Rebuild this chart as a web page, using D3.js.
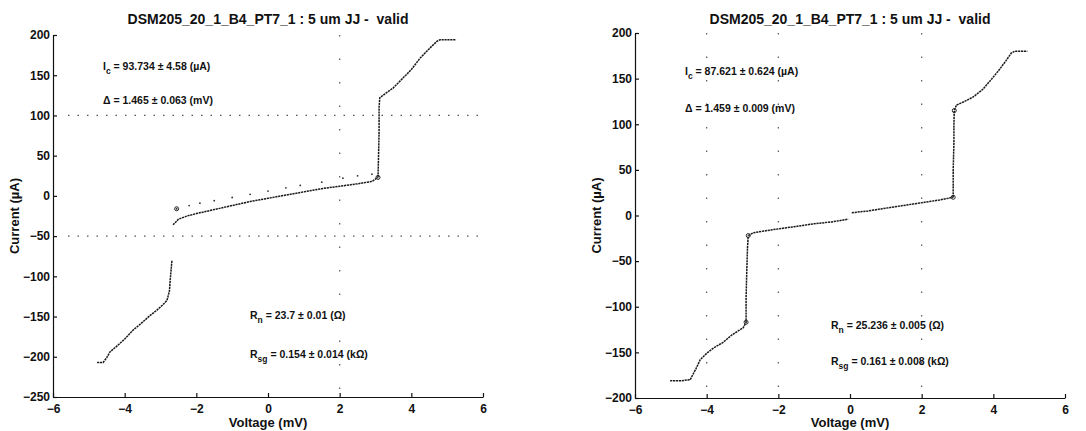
<!DOCTYPE html>
<html>
<head>
<meta charset="utf-8">
<script src="https://cdn.jsdelivr.net/npm/d3@7"></script>
<style>
  body { margin: 0; background: #fff; }
  svg { font-family: "Liberation Sans", Arial, sans-serif; font-weight: bold; }
  .domain, .tick line { stroke: #111; stroke-width: 1.2; }
</style>
</head>
<body>
<svg width="1086" height="431"></svg>
<script>
const svg = d3.select("svg");

// tick labels
const xTicks = [-6, -4, -2, 0, 2, 4, 6];
const leftYTicks = [200, 150, 100, 50, 0, -50, -100, -150, -200, -250];
const rightYTicks = [200, 150, 100, 50, 0, -50, -100, -150, -200];

// left junction: [voltage mV, current uA]
const leftNeg = [[-4.77,-207],[-4.6,-207],[-4.5,-201],[-4.41,-194],[-4.2,-186],[-4.0,-178],[-3.77,-167],[-3.5,-157],[-3.3,-149],[-3.1,-142],[-2.95,-136],[-2.82,-130],[-2.75,-118],[-2.73,-105],[-2.68,-80]];
const leftMain = [[-2.65,-36],[-2.5,-29],[-2.26,-25],[-2.0,-22],[-1.5,-17],[-1.0,-12],[-0.5,-7],[0,-3],[0.5,1],[1.0,5],[1.5,9],[2.0,12],[2.5,15],[2.9,18],[3.07,23]];
const leftUpper = [[-2.55,-16],[-2.2,-12],[-1.9,-9],[-1.5,-6],[-1.0,-2],[-0.5,2],[0,6],[0.5,10],[0.9,13],[1.5,17],[2.09,22],[2.5,25],[2.9,27]];
const leftPos = [[3.07,23],[3.08,40],[3.1,80],[3.1,110],[3.12,122],[3.3,128],[3.49,134],[3.8,148],[4.0,157],[4.24,171],[4.5,183],[4.71,192],[4.8,194],[5.25,194]];
const leftCircles = [[-2.55,-16],[3.07,23]];
const leftGridX = [2];
const leftGridY = [100, -50];

// right junction
const rightNeg = [[-5.02,-181],[-4.7,-181],[-4.46,-180],[-4.3,-168],[-4.18,-158],[-4.0,-151],[-3.8,-145],[-3.54,-139],[-3.3,-131],[-3.1,-126],[-2.98,-123],[-2.9,-117],[-2.9,-90],[-2.88,-60],[-2.86,-35],[-2.84,-22]];
const rightNegOhmic = [[-2.84,-22],[-2.7,-19],[-2.4,-17],[-2.06,-15],[-1.5,-12],[-1.0,-9],[-0.5,-7],[-0.05,-4]];
const rightPosOhmic = [[0.05,3],[0.5,5],[1.0,8],[1.5,11],[2.0,14],[2.5,17],[2.88,20]];
const rightPos = [[2.88,20],[2.88,50],[2.9,80],[2.9,100],[2.91,115],[2.97,121],[3.2,125],[3.44,130],[3.7,138],[3.92,148],[4.15,159],[4.36,170],[4.5,178],[4.6,180],[4.95,180]];
const rightCircles = [[-2.84,-22],[-2.9,-117],[2.88,20],[2.91,115]];
const rightGridX = [-4, -2, 2];
const rightGridY = [];

const title = "DSM205_20_1_B4_PT7_1 : 5 um JJ - \u00a0valid";

const styleTicks = sel => sel.selectAll(".tick text")
    .attr("font-family", "'Liberation Sans', Arial, sans-serif")
    .attr("font-size", 12)
    .attr("font-weight", "bold")
    .attr("fill", "#111");

const drawPanel = cfg => {
    const x = d3.scaleLinear().domain([-6, 6]).range([cfg.left, cfg.right]);
    const y = d3.scaleLinear().domain(cfg.yDomain).range([cfg.bottom, cfg.top]);
    const g = svg.append("g");

    // faint dotted grid remnants
    g.selectAll(".gx").data(cfg.gridX).enter().append("line")
        .attr("x1", d => x(d)).attr("x2", d => x(d))
        .attr("y1", cfg.top).attr("y2", cfg.bottom)
        .attr("stroke", "#555").attr("stroke-width", 1.2)
        .attr("stroke-dasharray", "1.5,22");
    g.selectAll(".gy").data(cfg.gridY).enter().append("line")
        .attr("x1", cfg.left + 15).attr("x2", cfg.right)
        .attr("y1", d => y(d)).attr("y2", d => y(d))
        .attr("stroke", "#555").attr("stroke-width", 1.2)
        .attr("stroke-dasharray", "1.5,8");

    g.append("g")
        .attr("transform", `translate(0,${cfg.bottom})`)
        .call(d3.axisBottom(x).tickValues(xTicks).tickSize(-4).tickPadding(7).tickSizeOuter(0))
        .call(styleTicks);
    g.append("g")
        .attr("transform", `translate(${cfg.left},0)`)
        .call(d3.axisLeft(y).tickValues(cfg.yTicks).tickSize(-4).tickPadding(3).tickSizeOuter(0))
        .call(styleTicks);

    const line = d3.line().x(d => x(d[0])).y(d => y(d[1]));
    cfg.lines.forEach(s => {
        g.append("path").datum(s)
            .attr("d", line)
            .attr("fill", "none")
            .attr("stroke", "#1a1a1a")
            .attr("stroke-width", 1.5)
            .attr("stroke-dasharray", "2.2,0.7");
    });
    cfg.dots.forEach(s => {
        g.selectAll(null).data(s).enter().append("circle")
            .attr("cx", d => x(d[0])).attr("cy", d => y(d[1]))
            .attr("r", 0.9).attr("fill", "#333");
    });
    g.selectAll(null).data(cfg.circles).enter().append("circle")
        .attr("cx", d => x(d[0])).attr("cy", d => y(d[1]))
        .attr("r", 2).attr("fill", "none").attr("stroke", "#222").attr("stroke-width", 1);

    // title and axis labels
    g.append("text")
        .attr("x", (cfg.left + cfg.right) / 2).attr("y", 24)
        .attr("text-anchor", "middle").attr("font-size", 14).attr("fill", "#111")
        .text(title);
    g.append("text")
        .attr("x", (cfg.left + cfg.right) / 2).attr("y", 427)
        .attr("text-anchor", "middle").attr("font-size", 13).attr("fill", "#111")
        .text("Voltage (mV)");
    g.append("text")
        .attr("transform", `translate(${cfg.left - 34},${(cfg.top + cfg.bottom) / 2}) rotate(-90)`)
        .attr("text-anchor", "middle").attr("font-size", 13).attr("fill", "#111")
        .text("Current (\u00b5A)");

    // fit annotations
    cfg.notes.forEach(n => {
        const t = g.append("text")
            .attr("x", n.x).attr("y", n.y)
            .attr("font-size", 10.5).attr("fill", "#111");
        t.append("tspan").text(n.sym);
        t.append("tspan").attr("font-size", 8.5).attr("dy", 4).text(n.sub);
        t.append("tspan").attr("dy", -4).text(n.rest);
    });
};

drawPanel({
    left: 53, right: 483, top: 35, bottom: 397,
    yDomain: [-250, 200], yTicks: leftYTicks,
    gridX: leftGridX, gridY: leftGridY,
    lines: [leftNeg, leftMain, leftPos],
    dots: [leftUpper],
    circles: leftCircles,
    notes: [
        { x: 103, y: 70, sym: "I", sub: "c", rest: " = 93.734 \u00b1 4.58 (\u00b5A)" },
        { x: 103, y: 104, sym: "\u0394 = 1.465 \u00b1 0.063 (mV)", sub: "", rest: "" },
        { x: 250, y: 319, sym: "R", sub: "n", rest: " = 23.7 \u00b1 0.01 (\u03a9)" },
        { x: 250, y: 358, sym: "R", sub: "sg", rest: " = 0.154 \u00b1 0.014 (k\u03a9)" }
    ]
});

drawPanel({
    left: 635, right: 1065, top: 33, bottom: 398,
    yDomain: [-200, 200], yTicks: rightYTicks,
    gridX: rightGridX, gridY: rightGridY,
    lines: [rightNeg, rightNegOhmic, rightPosOhmic, rightPos],
    dots: [],
    circles: rightCircles,
    notes: [
        { x: 685, y: 75, sym: "I", sub: "c", rest: " = 87.621 \u00b1 0.624 (\u00b5A)" },
        { x: 685, y: 112, sym: "\u0394 = 1.459 \u00b1 0.009 (mV)", sub: "", rest: "" },
        { x: 831, y: 329, sym: "R", sub: "n", rest: " = 25.236 \u00b1 0.005 (\u03a9)" },
        { x: 831, y: 365, sym: "R", sub: "sg", rest: " = 0.161 \u00b1 0.008 (k\u03a9)" }
    ]
});
</script>
</body>
</html>
